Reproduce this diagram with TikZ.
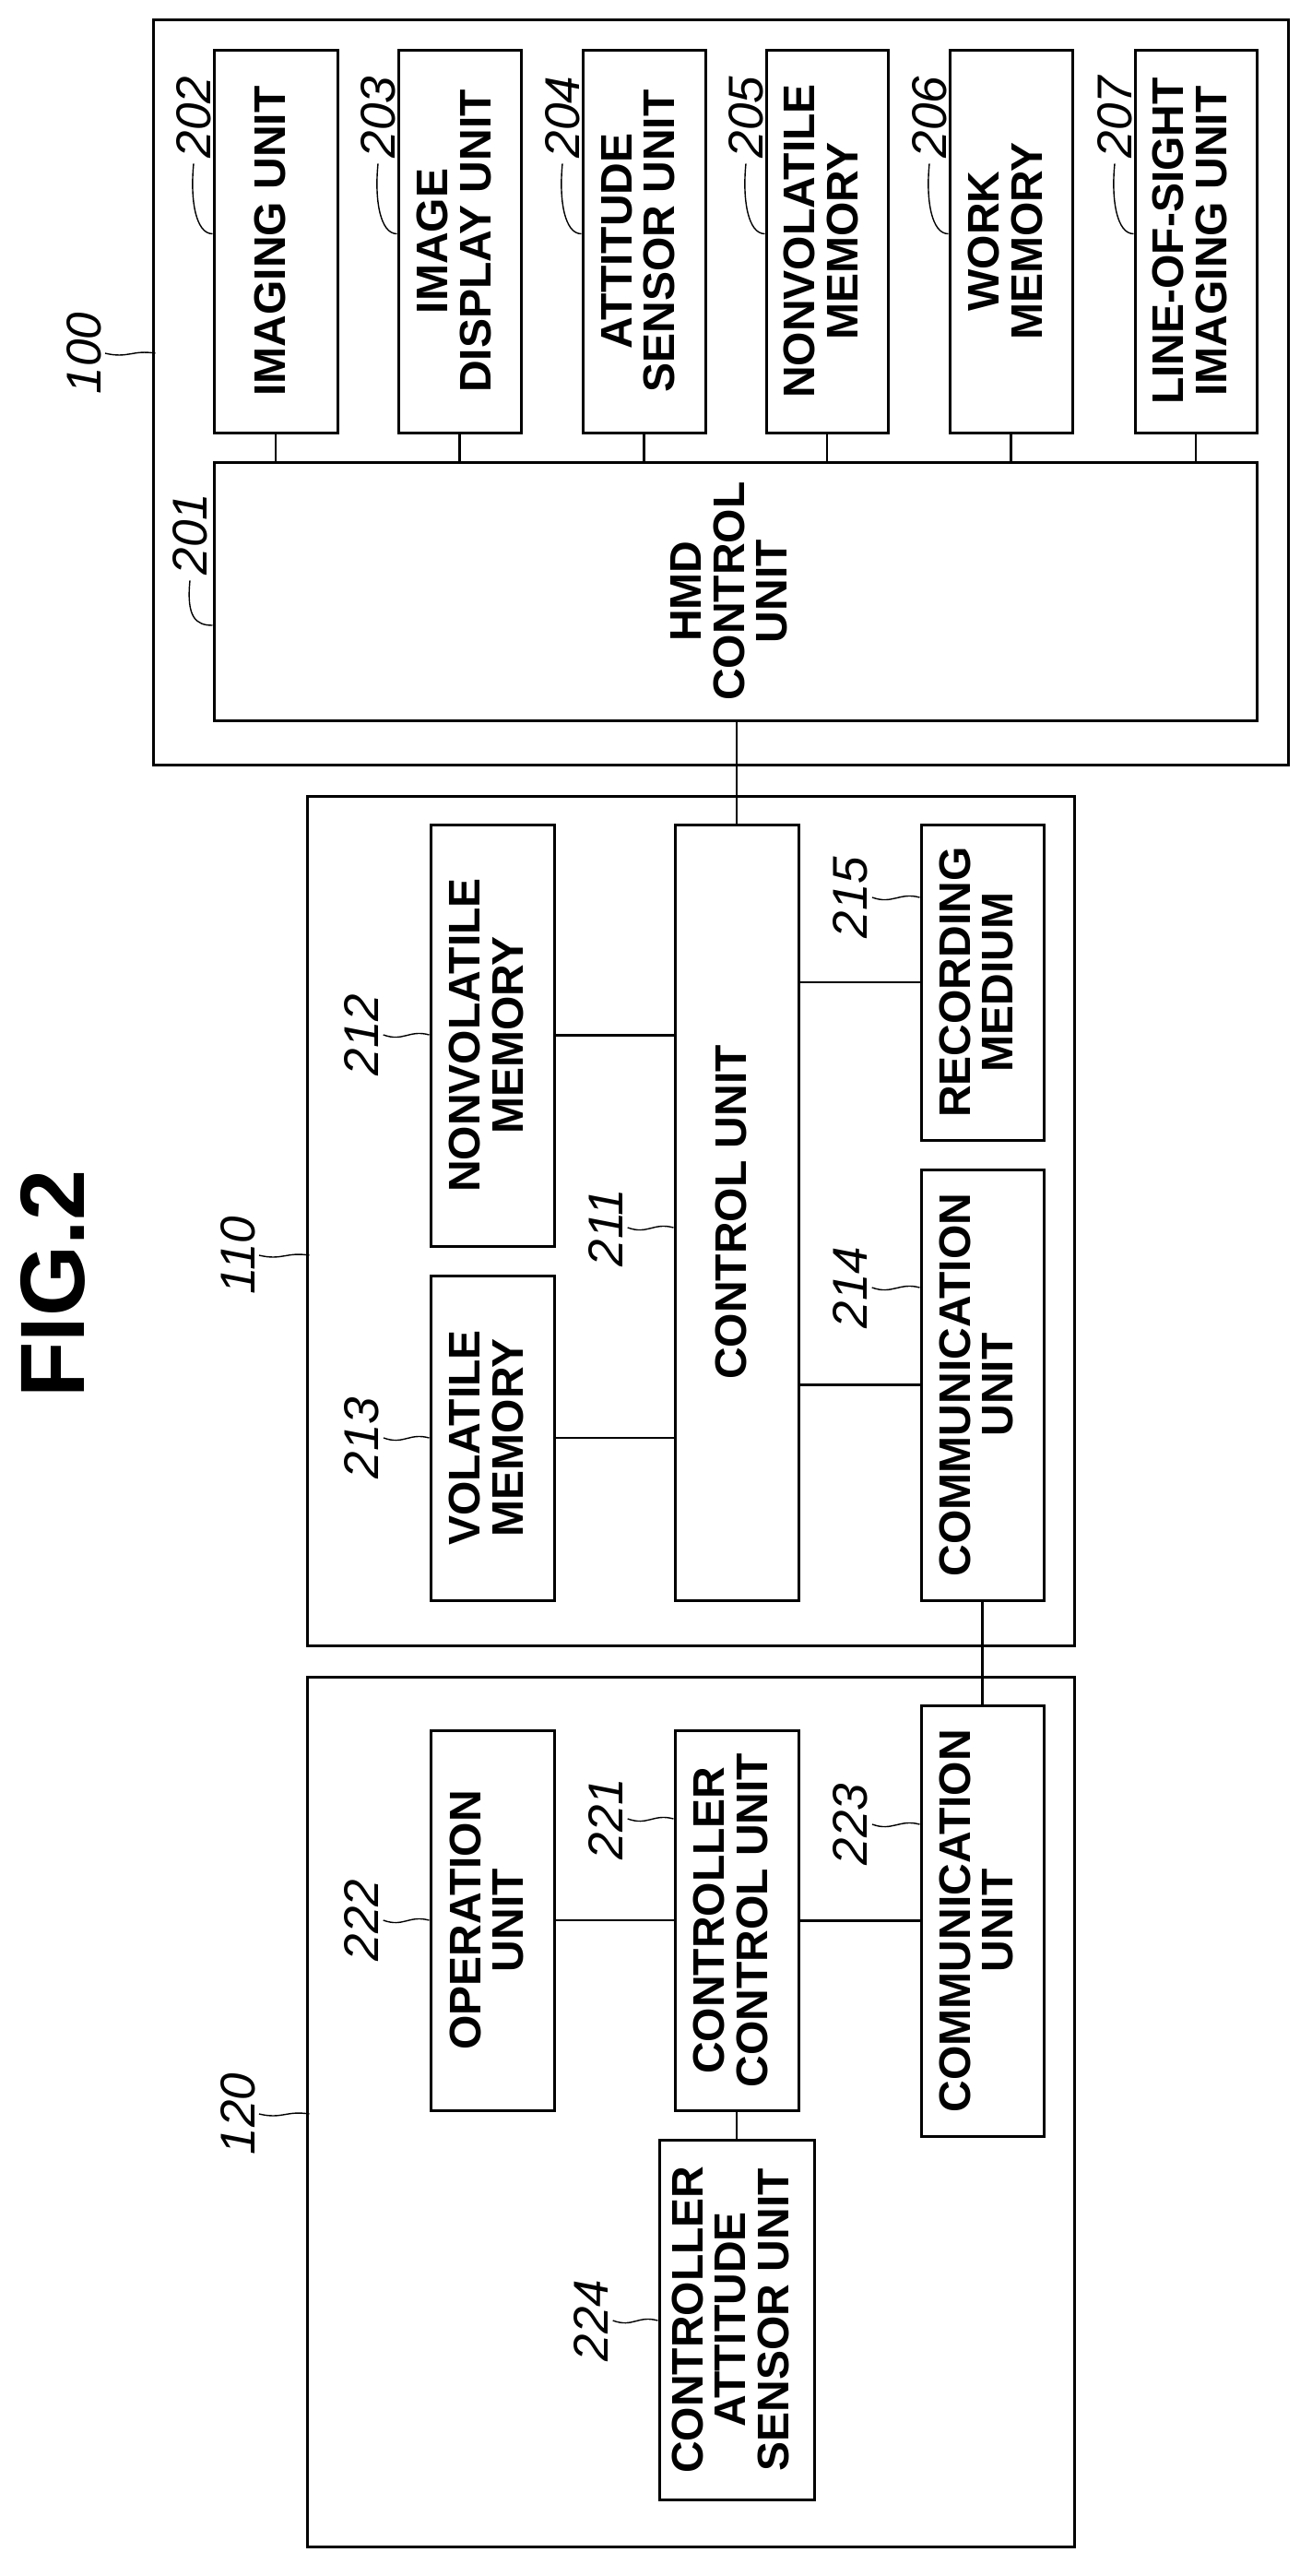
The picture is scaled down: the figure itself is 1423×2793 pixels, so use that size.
\documentclass[tikz,border=0pt]{standalone}
\usepackage{fontspec}
\setmainfont{Liberation Sans}
\usepackage{graphicx}
\begin{document}
\begin{tikzpicture}[x=1pt,y=-1pt,
  box/.style={draw,line width=3pt,inner sep=0pt,
    font=\bfseries\fontsize{48}{44}\selectfont},
  frame/.style={draw,line width=3pt,inner sep=0pt},
  lab/.style={inner sep=0pt,font=\itshape\fontsize{53}{53}\selectfont},
  con/.style={line width=2.5pt},
  lead/.style={line width=1.4pt}]
\useasboundingbox (0,0) rectangle (1423,2793);
\newcommand\bx[7][box]{\node[#1,minimum width={(#5-#3)*1pt},minimum height={(#6-#4)*1pt}]
  (#2) at ({(#3+#5)/2},{(#4+#6)/2}) {\rotatebox{90}{\begin{tabular}{@{}c@{}}#7\end{tabular}}};}
\newcommand\lb[4]{\node[lab] (#1) at (#2,#3) {\rotatebox{90}{#4}};}
% title
\node[inner sep=0pt,font=\bfseries\fontsize{99}{99}\selectfont] (title) at (57,1392) {\rotatebox{90}{FIG.2}};
% frames
\bx[frame]{b100}{166}{21}{1397}{829}{}
\bx[frame]{b110}{333}{863}{1165}{1784}{}
\bx[frame]{b120}{333}{1818}{1165}{2761}{}
% HMD
\bx{b202}{232}{54}{366}{469}{IMAGING UNIT}
\bx{b203}{432}{54}{565}{469}{IMAGE\\DISPLAY UNIT}
\bx{b204}{632}{54}{765}{469}{ATTITUDE\\SENSOR UNIT}
\bx{b205}{831}{54}{963}{469}{NONVOLATILE\\MEMORY}
\bx{b206}{1030}{54}{1163}{469}{WORK\\MEMORY}
\bx{b207}{1231}{54}{1363}{469}{LINE-OF-SIGHT\\IMAGING UNIT}
\bx{b201}{232}{501}{1363}{781}{HMD\\CONTROL\\UNIT}
% 110
\bx{b212}{467}{894}{601}{1351}{NONVOLATILE\\MEMORY}
\bx{b213}{467}{1383}{601}{1735}{VOLATILE\\MEMORY}
\bx{b211}{732}{894}{866}{1735}{CONTROL UNIT}
\bx{b215}{999}{894}{1132}{1236}{RECORDING\\MEDIUM}
\bx{b214}{999}{1268}{1132}{1735}{COMMUNICATION\\UNIT}
% 120
\bx{b222}{467}{1876}{601}{2288}{OPERATION\\UNIT}
\bx{b221}{732}{1876}{866}{2288}{CONTROLLER\\CONTROL UNIT}
\bx{b223}{999}{1849}{1132}{2316}{COMMUNICATION\\UNIT}
\bx{b224}{715}{2320}{883}{2710}{CONTROLLER\\ATTITUDE\\SENSOR UNIT}
% connectors
\foreach \n in {b202,b203,b204,b205,b206,b207}
  \draw[con] (\n.south) -- (\n.south |- b201.north);
\draw[con] (b211.north |- b201.south) -- (b211.north);
\draw[con] (b212.east) -- (b212.east -| b211.west);
\draw[con] (b213.east) -- (b213.east -| b211.west);
\draw[con] (b211.east |- b215.west) -- (b215.west);
\draw[con] (b211.east |- b214.west) -- (b214.west);
\draw[con] (b214.south) -- (b214.south |- b223.north);
\draw[con] (b222.east) -- (b222.east -| b221.west);
\draw[con] (b221.east |- b223.west) -- (b223.west);
\draw[con] (b221.south) -- (b224.north);
% labels
\lb{l100}{91}{383}{100}
\lb{l110}{258}{1361}{110}
\lb{l120}{258}{2292}{120}
\foreach \n/\t/\x in {l100/b100/0,l110/b110/0,l120/b120/0}
  \draw[lead] ([xshift=4pt]\n.east) .. controls +(25,6) and +(-25,-4) .. ([xshift=4pt]\n.east -| \t.west);
\lb{l202}{210}{127}{202}
\lb{l203}{410}{127}{203}
\lb{l204}{610}{127}{204}
\lb{l205}{809}{127}{205}
\lb{l206}{1008}{127}{206}
\lb{l207}{1209}{127}{207}
\foreach \n/\t in {l202/b202,l203/b203,l204/b204,l205/b205,l206/b206,l207/b207}
  \draw[lead] ([yshift=-6pt]\n.south) .. controls +(-4,40) and +(-18,0) .. ([yshift=8pt]\t.west);
\lb{l201}{206}{579}{201}
\draw[lead] ([yshift=-6pt]l201.south) .. controls +(-4,40) and +(-18,0) .. ([yshift=-37pt]b201.west);
\lb{l212}{392}{1122}{212}
\lb{l213}{392}{1559}{213}
\lb{l211}{657}{1331}{211}
\lb{l214}{922}{1396}{214}
\lb{l215}{922}{973}{215}
\lb{l222}{392}{2082}{222}
\lb{l221}{657}{1972}{221}
\lb{l223}{922}{1978}{223}
\lb{l224}{641}{2516}{224}
\foreach \n/\t in {l212/b212,l213/b213,l211/b211,l214/b214,l215/b215,l222/b222,l221/b221,l223/b223,l224/b224}
  \draw[lead] ([xshift=5pt]\n.east) .. controls +(22,8) and +(-22,-6) .. (\n.east -| \t.west);
\end{tikzpicture}
\end{document}
